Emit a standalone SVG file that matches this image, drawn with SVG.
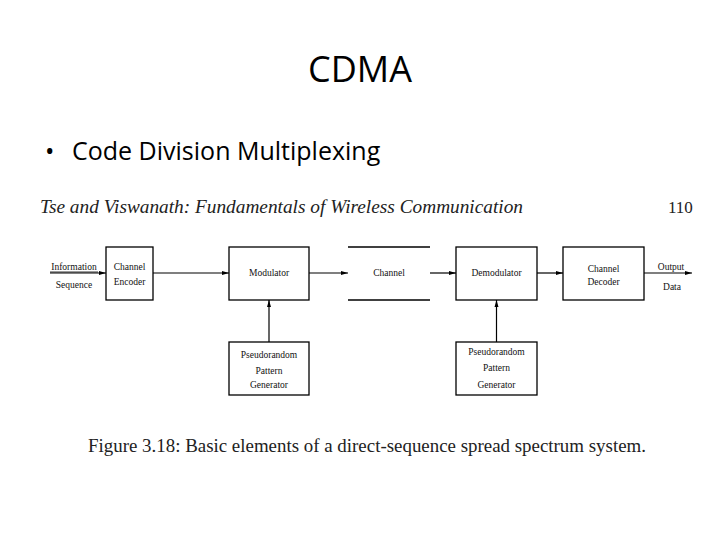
<svg xmlns="http://www.w3.org/2000/svg" width="720" height="540" viewBox="0 0 720 540">
<defs><marker id="a" markerWidth="8" markerHeight="6" refX="7" refY="3" orient="auto" markerUnits="userSpaceOnUse"><path d="M0,1 L7,3 L0,5 z" fill="#000"/></marker></defs>
<style>
.b{fill:#fff;stroke:#000;stroke-width:1.3}
.t{font-family:"Liberation Serif",serif;font-size:9.5px;text-anchor:middle;fill:#111}
.c{stroke:#000;stroke-width:1.2;fill:none;marker-end:url(#a)}
</style>
<rect width="720" height="540" fill="#fff"/>
<text x="360" y="82" font-family="Open Sans,sans-serif" font-size="36" text-anchor="middle">CDMA</text>
<text x="45" y="160" font-family="Open Sans,sans-serif" font-size="25">•</text>
<text x="72" y="160" font-family="Open Sans,sans-serif" font-size="25">Code Division Multiplexing</text>
<text x="40" y="213" font-family="Liberation Serif,serif" font-style="italic" font-size="18" textLength="483" lengthAdjust="spacingAndGlyphs" fill="#222">Tse and Viswanath: Fundamentals of Wireless Communication</text>
<text x="668" y="213" font-family="Liberation Serif,serif" font-size="17" fill="#222">110</text>
<g id="enc"><rect class="b" x="106" y="247" width="47" height="53"/><text class="t" x="129.5" y="270">Channel</text><text class="t" x="129.5" y="285">Encoder</text></g>
<g id="mod"><rect class="b" x="229" y="247" width="80" height="53"/><text class="t" x="269" y="276">Modulator</text></g>
<g id="chan"><line x1="348" y1="247" x2="430" y2="247" stroke="#000" stroke-width="1.3"/><line x1="348" y1="300" x2="430" y2="300" stroke="#000" stroke-width="1.3"/><text class="t" x="389" y="276">Channel</text></g>
<g id="demod"><rect class="b" x="456" y="247" width="81" height="53"/><text class="t" x="496.5" y="276">Demodulator</text></g>
<g id="dec"><rect class="b" x="563" y="247" width="81" height="53"/><text class="t" x="603.5" y="272">Channel</text><text class="t" x="603.5" y="285">Decoder</text></g>
<g id="pn1"><rect class="b" x="229" y="342" width="80" height="53"/><text class="t" x="269" y="358">Pseudorandom</text><text class="t" x="269" y="374">Pattern</text><text class="t" x="269" y="388">Generator</text></g>
<g id="pn2"><rect class="b" x="456" y="342" width="81" height="53"/><text class="t" x="496.5" y="355">Pseudorandom</text><text class="t" x="496.5" y="371">Pattern</text><text class="t" x="496.5" y="388">Generator</text></g>
<g id="labels"><text class="t" x="74" y="270">Information</text><line x1="50" y1="272" x2="98" y2="272" stroke="#000" stroke-width="0.8"/><text class="t" x="74" y="288">Sequence</text><text class="t" x="671" y="270">Output</text><text class="t" x="672" y="290">Data</text></g>
<g id="connectors">
<line class="c" x1="50" y1="273" x2="106" y2="273"/>
<line class="c" x1="153" y1="273" x2="229" y2="273"/>
<line class="c" x1="309" y1="273" x2="348" y2="273"/>
<line class="c" x1="430" y1="273" x2="456" y2="273"/>
<line class="c" x1="537" y1="273" x2="563" y2="273"/>
<line class="c" x1="644" y1="273" x2="692" y2="273"/>
<line class="c" x1="269" y1="342" x2="269" y2="300"/>
<line class="c" x1="496.5" y1="342" x2="496.5" y2="300"/>
</g>
<text x="88" y="452" font-family="Liberation Serif,serif" font-size="18" textLength="558" lengthAdjust="spacingAndGlyphs" fill="#222">Figure 3.18: Basic elements of a direct-sequence spread spectrum system.</text>
</svg>
